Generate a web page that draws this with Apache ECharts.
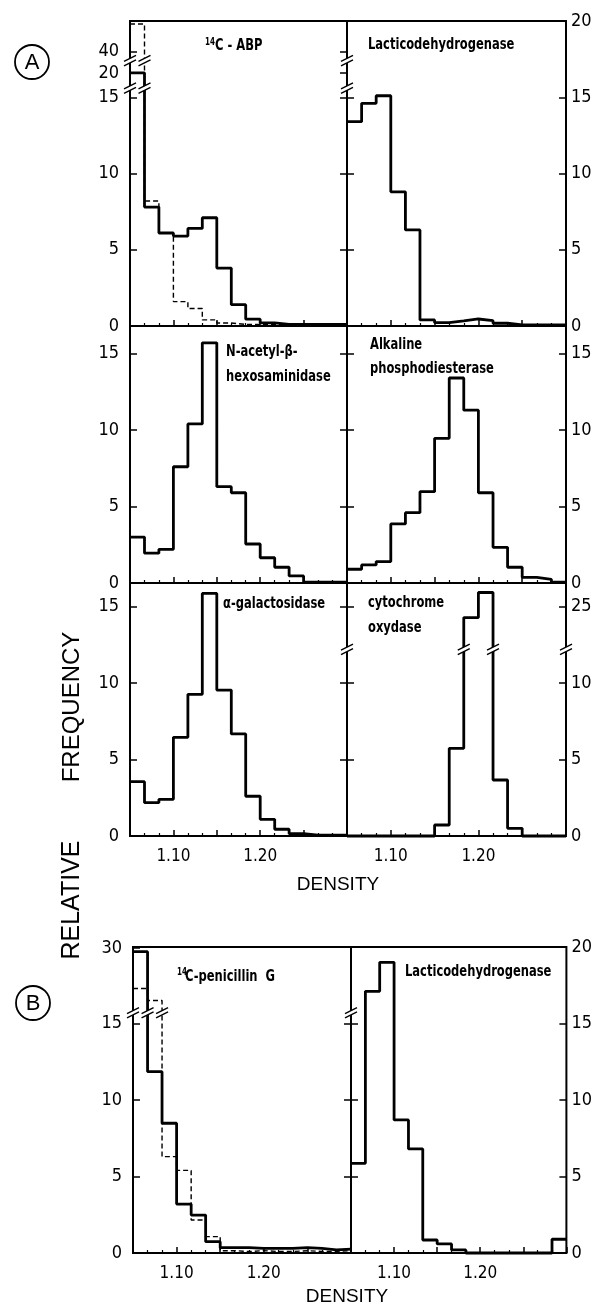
<!DOCTYPE html>
<html style='height: 100%'>
<head>
    <meta charset='utf-8'>
</head>
<body style='height: 100%; margin: 0; background: #fff'>
    <div id='container' style='width: 595px; height: 1308px'></div>
    <script type='text/javascript' src='https://cdn.jsdelivr.net/npm/echarts@6.0.0/dist/echarts.min.js'></script>
    <script type="text/javascript">

var dom = document.getElementById("container");
var myChart = echarts.init(dom, null, {renderer: 'canvas'});

// bin edges on the density axis, shared by all histograms
var edges = [1.05, 1.0667, 1.0833, 1.10, 1.1167, 1.1333, 1.15, 1.1667, 1.1833, 1.20, 1.2167, 1.2333, 1.25, 1.2667, 1.2833, 1.30];

// A - top row
var abpSolid  = [20, 7.8, 6.1, 5.9, 6.4, 7.1, 3.8, 1.4, 0.45, 0.2, 0.1, 0.1, 0.1, 0.1, 0.1];
var abpDashed = [45, 8.2, 6.1, 1.6, 1.15, 0.4, 0.2, 0.1, 0.1, 0.1, 0.1, 0.1, 0.1, 0.1, 0.1];
var ldhA      = [13.4, 14.6, 15.1, 8.8, 6.3, 0.4, 0.22, 0.33, 0.46, 0.35, 0.18, 0.07, 0.07, 0.07, 0.07];
// A - middle row
var hexosaminidase    = [3.0, 1.95, 2.2, 7.6, 10.4, 15.7, 6.3, 5.9, 2.55, 1.65, 1.03, 0.46, 0.05, 0.05, 0.05];
var phosphodiesterase = [0.9, 1.18, 1.4, 3.86, 4.6, 5.97, 9.46, 13.4, 11.3, 5.9, 2.33, 1.03, 0.37, 0.24, 0.05];
// A - bottom row
var galactosidase = [3.55, 2.18, 2.4, 6.45, 9.26, 15.86, 9.54, 6.67, 2.6, 1.09, 0.44, 0.15, 0.05, 0.05, 0.05];
var cytochrome    = [0, 0, 0, 0, 0, 0, 0.72, 5.73, 23.2, 27.3, 3.66, 0.5, 0, 0, 0];
// B
var penSolid  = [29.2, 11.85, 8.48, 3.2, 2.48, 0.74, 0.35, 0.35, 0.3, 0.3, 0.3, 0.35, 0.3, 0.2, 0.25];
var penDashed = [20.6, 17.8, 6.3, 5.4, 2.16, 1.07, 0.15, 0.1, 0.15, 0.1, 0.1, 0.15, 0.1, 0.1, 0.15];
var ldhB      = [5.86, 17.1, 19.0, 8.7, 6.8, 0.85, 0.59, 0.2, 0, 0, 0, 0, 0, 0, 0.9];

// tick labels
var xLabels  = [1.10, 1.20];
var ticksAbp = [0, 5, 10, 15, 20, 40];
var ticks20  = [0, 5, 10, 15, 20];
var ticks15  = [0, 5, 10, 15];
var ticksCyt = [0, 5, 10, 25];
var ticksPen = [0, 5, 10, 15, 30];

// broken axes: [value where a segment starts, drawn height there, drawn units per value]
var brkNone = [[0, 0, 1]];
var brkAbp  = [[0, 0, 1], [20, 16.6, 0.07], [40, 18.0, 0.36]];
var brkCyt  = [[0, 0, 1], [20, 13.0, 0.4]];
var brkPen  = [[0, 0, 1], [16, 16.0, 0.28]];

function drawn(brk, v) {
    var s = brk[0];
    brk.forEach(function (b) { if (v >= b[0]) s = b; });
    return s[1] + (v - s[0]) * s[2];
}

var NARROW = '"DejaVu Sans Condensed", "DejaVu Sans", sans-serif';
var PLAIN = '"Liberation Sans", Arial, sans-serif';

var option = {
    backgroundColor: '#fff',
    animation: false,
    grid: [], xAxis: [], yAxis: [], series: [], graphic: []
};

function addPanel(p) {
    var gi = option.grid.length;
    option.grid.push({
        left: p.box[0], top: p.box[1], width: p.box[2], height: p.box[3],
        show: true, borderColor: '#000', borderWidth: 2, backgroundColor: 'transparent'
    });
    option.xAxis.push({
        type: 'value', gridIndex: gi, min: 1.05, max: 1.30, interval: 0.05,
        axisLine: {show: false}, splitLine: {show: false},
        axisTick: {inside: true, length: 6, lineStyle: {color: '#000', width: 1.5}},
        minorTick: {show: true, splitNumber: 3, length: 3, lineStyle: {color: '#000', width: 1.2}},
        axisLabel: {
            show: !!p.xlab, customValues: xLabels, margin: 12,
            color: '#000', fontFamily: NARROW, fontSize: 17,
            formatter: function (v) { return v.toFixed(2); }
        }
    });
    var plot = p.ticks.map(function (v) { return drawn(p.brk, v); });
    var yi = option.yAxis.length;
    option.yAxis.push({
        type: 'value', gridIndex: gi, position: p.side, min: 0, max: p.max,
        axisLine: {show: false}, splitLine: {show: false},
        axisTick: {inside: true, length: 7, customValues: plot, lineStyle: {color: '#000', width: 1.5}},
        axisLabel: {
            customValues: plot, margin: p.side === 'left' ? 11 : 5,
            color: '#000', fontFamily: NARROW, fontSize: 18,
            formatter: function (v) {
                for (var i = 0; i < plot.length; i++) {
                    if (Math.abs(plot[i] - v) < 1e-6) return String(p.ticks[i]);
                }
                return '';
            }
        }
    });
    // ticks on the opposite border
    option.yAxis.push({
        type: 'value', gridIndex: gi, position: p.side === 'left' ? 'right' : 'left', min: 0, max: p.max,
        axisLine: {show: false}, splitLine: {show: false},
        axisTick: {inside: true, length: 7, customValues: plot.filter(function (v) { return v < p.max - 0.5; }),
                   lineStyle: {color: '#000', width: 1.5}},
        axisLabel: {show: false}
    });
    p.hist.forEach(function (h) {
        option.series.push({
            type: 'line', xAxisIndex: gi, yAxisIndex: yi, step: 'end', symbol: 'none', clip: false,
            z: h.dashed ? 3 : 4,
            lineStyle: h.dashed ? {color: '#000', width: 1.4, type: [5, 3]} : {color: '#000', width: 2.8},
            data: edges.map(function (e, i) { return [e, drawn(p.brk, h.values[Math.min(i, h.values.length - 1)])]; })
        });
    });
    if (p.cuts) {
        var marks = [];
        p.cuts.x.forEach(function (x) {
            p.cuts.y.forEach(function (y) { marks.push([x, y]); });
        });
        option.series.push({
            type: 'custom', xAxisIndex: gi, yAxisIndex: yi, clip: false, z: 10, data: marks,
            renderItem: function (params, api) {
                var c = api.coord([api.value(0), api.value(1)]);
                var w = 6, h = 3, g = 2.2;
                return {type: 'group', children: [
                    {type: 'polygon', shape: {points: [[c[0] - w, c[1] + h - g], [c[0] + w, c[1] - h - g],
                        [c[0] + w, c[1] - h + g], [c[0] - w, c[1] + h + g]]}, style: {fill: '#fff'}},
                    {type: 'line', shape: {x1: c[0] - w, y1: c[1] + h - g, x2: c[0] + w, y2: c[1] - h - g},
                        style: {stroke: '#000', lineWidth: 1.4}},
                    {type: 'line', shape: {x1: c[0] - w, y1: c[1] + h + g, x2: c[0] + w, y2: c[1] - h + g},
                        style: {stroke: '#000', lineWidth: 1.4}}
                ]};
            }
        });
    }
}

// A
addPanel({box: [130, 21, 217, 305], max: 20, side: 'left', ticks: ticksAbp, brk: brkAbp,
    hist: [{values: abpDashed, dashed: true}, {values: abpSolid}],
    cuts: {x: [1.05, 1.0667, 1.30], y: [15.6, 17.4]}});
addPanel({box: [347, 21, 219, 305], max: 20, side: 'right', ticks: ticks20, brk: brkNone,
    hist: [{values: ldhA}]});
addPanel({box: [130, 326, 217, 257], max: 16.8, side: 'left', ticks: ticks15, brk: brkNone,
    hist: [{values: hexosaminidase}]});
addPanel({box: [347, 326, 219, 257], max: 16.8, side: 'right', ticks: ticks15, brk: brkNone,
    hist: [{values: phosphodiesterase}]});
addPanel({box: [130, 583, 217, 253], max: 16.54, side: 'left', ticks: ticks15, brk: brkNone, xlab: true,
    hist: [{values: galactosidase}]});
addPanel({box: [347, 583, 219, 253], max: 16.54, side: 'right', ticks: ticksCyt, brk: brkCyt, xlab: true,
    hist: [{values: cytochrome}],
    cuts: {x: [1.05, 1.1833, 1.2167, 1.30], y: [12.2]}});
// B
addPanel({box: [133, 947, 218, 306], max: 20, side: 'left', ticks: ticksPen, brk: brkPen, xlab: true,
    hist: [{values: penDashed, dashed: true}, {values: penSolid}],
    cuts: {x: [1.05, 1.0667, 1.0833, 1.30], y: [15.7]}});
addPanel({box: [351, 947, 221, 306], max: 20, side: 'right', ticks: ticks20, brk: brkNone, xlab: true,
    hist: [{values: ldhB}]});

// text; panel titles use a condensed face squeezed a little more
function txt(s, x, y, o) {
    o = o || {};
    return {type: 'text', x: x, y: y, rotation: o.rot || 0, scaleX: o.sx || 1, z: 20, style: {
        text: s, fill: '#000', align: o.align || 'left', verticalAlign: 'middle',
        fontFamily: o.family || NARROW, fontSize: o.size || 16, fontWeight: o.weight || 'bold'
    }};
}
var T = {sx: 0.8};

option.graphic = [
    {type: 'circle', shape: {cx: 32, cy: 62, r: 17}, style: {fill: 'none', stroke: '#000', lineWidth: 1.8}},
    txt('A', 32, 63, {align: 'center', family: PLAIN, size: 22, weight: 'normal'}),
    {type: 'circle', shape: {cx: 33, cy: 1003, r: 17}, style: {fill: 'none', stroke: '#000', lineWidth: 1.8}},
    txt('B', 33, 1004, {align: 'center', family: PLAIN, size: 22, weight: 'normal'}),
    txt('FREQUENCY', 72, 707, {align: 'center', family: PLAIN, size: 24, weight: 'normal', rot: Math.PI / 2}),
    txt('RELATIVE', 72, 900, {align: 'center', family: PLAIN, size: 25, weight: 'normal', rot: Math.PI / 2}),
    txt('DENSITY', 338, 885, {align: 'center', family: PLAIN, size: 19, weight: 'normal'}),
    txt('DENSITY', 347, 1297, {align: 'center', family: PLAIN, size: 19, weight: 'normal'}),
    txt('14', 205, 42, {size: 10, sx: 0.8}),
    txt('C - ABP', 215, 46, T),
    txt('Lacticodehydrogenase', 368, 45, T),
    txt('N-acetyl-β-', 226, 352, T),
    txt('hexosaminidase', 226, 377, T),
    txt('Alkaline', 370, 345, T),
    txt('phosphodiesterase', 370, 369, T),
    txt('α-galactosidase', 223, 604, T),
    txt('cytochrome', 368, 603, T),
    txt('oxydase', 368, 628, T),
    txt('14', 177, 972, {size: 10, sx: 0.8}),
    txt('C-penicillin  G', 185, 977, T),
    txt('Lacticodehydrogenase', 405, 972, T)
];

if (option && typeof option === "object") {
    myChart.setOption(option, true);
}
       </script>
   </body>
</html>
